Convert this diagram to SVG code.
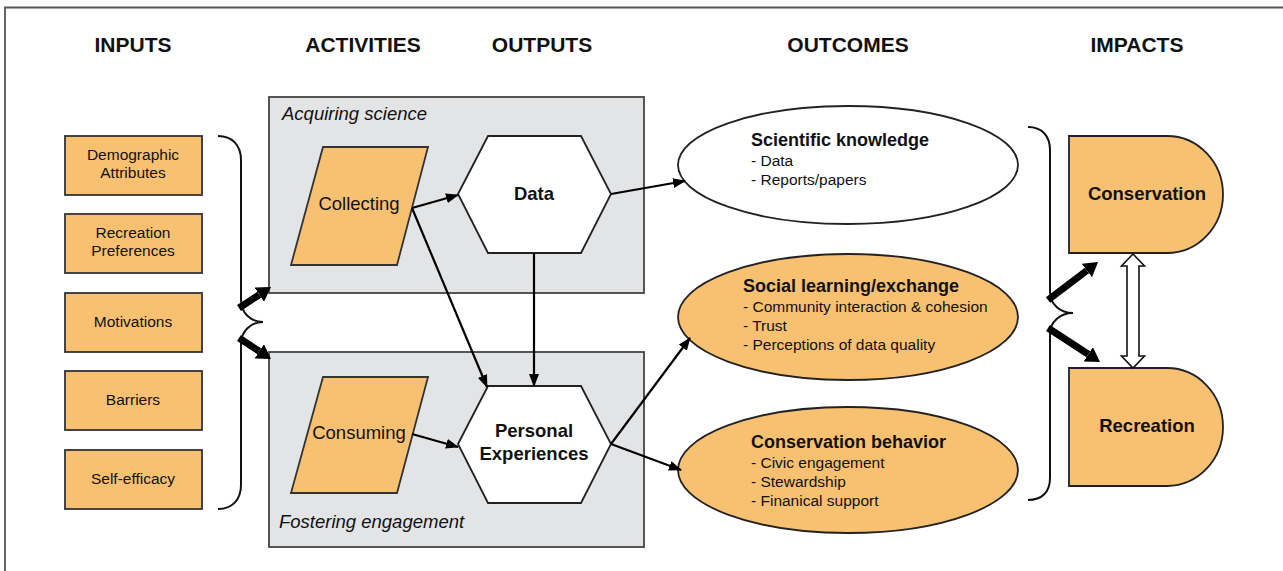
<svg xmlns="http://www.w3.org/2000/svg" width="1283" height="571" viewBox="0 0 1283 571">
  <style>
    text { font-family: "Liberation Sans", Arial, sans-serif; fill: #111; }
    .hdr { font-size: 21px; font-weight: bold; text-anchor: middle; }
    .inp { font-size: 15.5px; text-anchor: middle; }
    .act { font-size: 18.5px; text-anchor: middle; }
    .grp { font-size: 18.5px; font-style: italic; }
    .hex { font-size: 18.5px; font-weight: bold; text-anchor: middle; }
    .oth { font-size: 18px; font-weight: bold; }
    .oit { font-size: 15.5px; }
    .imp { font-size: 18.5px; font-weight: bold; text-anchor: middle; }
    .box { fill: #f8c172; stroke: #333; stroke-width: 1.8; }
    .panel { fill: #e3e4e6; stroke: #444; stroke-width: 1.8; }
    .white { fill: #fff; stroke: #222; stroke-width: 1.8; }
    .orange { fill: #f8c172; stroke: #222; stroke-width: 1.8; }
    .conn { stroke: #000; stroke-width: 2.2; fill: none; marker-end: url(#head); }
    .thick { stroke: #000; stroke-width: 7; fill: none; marker-end: url(#bighead); }
    .brace { stroke: #111; stroke-width: 2; fill: none; }
  </style>
  <defs>
    <marker id="head" viewBox="0 0 13 10" refX="12" refY="5" markerWidth="13" markerHeight="10" markerUnits="userSpaceOnUse" orient="auto">
      <path d="M0,0 L13,5 L0,10 z" fill="#000"/>
    </marker>
    <marker id="bighead" viewBox="0 -8.5 14 17" refX="0" refY="0" markerWidth="14" markerHeight="17" markerUnits="userSpaceOnUse" orient="auto">
      <path d="M0,-8.5 L14,0 L0,8.5 z" fill="#000"/>
    </marker>
  </defs>

  <rect width="1283" height="571" fill="#fff"/>
  <!-- frame -->
  <path d="M5,571 V7.5 H1283" fill="none" stroke="#555" stroke-width="1.8"/>

  <!-- column headings -->
  <g id="headings">
    <text class="hdr" x="133" y="52">INPUTS</text>
    <text class="hdr" x="363" y="52">ACTIVITIES</text>
    <text class="hdr" x="542" y="52">OUTPUTS</text>
    <text class="hdr" x="848" y="52">OUTCOMES</text>
    <text class="hdr" x="1137" y="52">IMPACTS</text>
  </g>

  <!-- inputs -->
  <g id="demographic">
    <rect class="box" x="65" y="136" width="137" height="59"/>
    <text class="inp" x="133" y="160">Demographic</text>
    <text class="inp" x="133" y="178">Attributes</text>
  </g>
  <g id="recreation-prefs">
    <rect class="box" x="65" y="214" width="137" height="59"/>
    <text class="inp" x="133" y="238">Recreation</text>
    <text class="inp" x="133" y="256">Preferences</text>
  </g>
  <g id="motivations">
    <rect class="box" x="65" y="293" width="137" height="59"/>
    <text class="inp" x="133" y="327">Motivations</text>
  </g>
  <g id="barriers">
    <rect class="box" x="65" y="371" width="137" height="59"/>
    <text class="inp" x="133" y="405">Barriers</text>
  </g>
  <g id="self-efficacy">
    <rect class="box" x="65" y="450" width="137" height="59"/>
    <text class="inp" x="133" y="484">Self-efficacy</text>
  </g>

  <!-- braces -->
  <g id="braces">
    <path class="brace" d="M218,136 C232,136 241,145 241,160 V300 C241,312 250,322 263,322 C250,322 241,332 241,344 V485 C241,500 232,509 218,509"/>
    <path class="brace" d="M1028,127 C1042,127 1050,136 1050,150 V292 C1050,304 1060,313 1073,313 C1060,313 1050,322 1050,334 V478 C1050,492 1042,500 1028,500"/>
  </g>

  <!-- activity panels -->
  <g id="acquiring-science">
    <rect class="panel" x="269" y="97" width="375" height="196"/>
    <text class="grp" x="282" y="120">Acquiring science</text>
  </g>
  <g id="fostering-engagement">
    <rect class="panel" x="269" y="352" width="375" height="195"/>
    <text class="grp" x="279" y="528">Fostering engagement</text>
  </g>

  <g id="collecting">
    <polygon class="box" points="323,147 428,147 397,265 291,265"/>
    <text class="act" x="359" y="210">Collecting</text>
  </g>
  <g id="consuming">
    <polygon class="box" points="323,377 428,377 397,493 291,493"/>
    <text class="act" x="359" y="439">Consuming</text>
  </g>

  <!-- outputs -->
  <g id="data">
    <polygon class="white" points="458,194 488,136 581,136 611,194 581,253 488,253"/>
    <text class="hex" x="534" y="200">Data</text>
  </g>
  <g id="personal-experiences">
    <polygon class="white" points="458,444 488,386 581,386 611,444 581,503 488,503"/>
    <text class="hex" x="534" y="437">Personal</text>
    <text class="hex" x="534" y="460">Experiences</text>
  </g>

  <!-- outcomes -->
  <g id="scientific-knowledge">
    <ellipse class="white" cx="848" cy="165" rx="170" ry="59"/>
    <text class="oth" x="751" y="146">Scientific knowledge</text>
    <text class="oit" x="751" y="166">- Data</text>
    <text class="oit" x="751" y="185">- Reports/papers</text>
  </g>
  <g id="social-learning">
    <ellipse class="orange" cx="848" cy="317" rx="170" ry="63"/>
    <text class="oth" x="743" y="292">Social learning/exchange</text>
    <text class="oit" x="743" y="312">- Community interaction &amp; cohesion</text>
    <text class="oit" x="743" y="331">- Trust</text>
    <text class="oit" x="743" y="350">- Perceptions of data quality</text>
  </g>
  <g id="conservation-behavior">
    <ellipse class="orange" cx="848" cy="470" rx="170" ry="63"/>
    <text class="oth" x="751" y="448">Conservation behavior</text>
    <text class="oit" x="751" y="468">- Civic engagement</text>
    <text class="oit" x="751" y="487">- Stewardship</text>
    <text class="oit" x="751" y="506">- Finanical support</text>
  </g>

  <!-- impacts -->
  <g id="conservation">
    <path class="orange" d="M1069,136 H1167 A56,58.5 0 0 1 1167,253 H1069 Z"/>
    <text class="imp" x="1147" y="200">Conservation</text>
  </g>
  <g id="recreation">
    <path class="orange" d="M1069,368 H1167 A56,59 0 0 1 1167,486 H1069 Z"/>
    <text class="imp" x="1147" y="432">Recreation</text>
  </g>

  <!-- connectors -->
  <g id="connectors">
    <line class="conn" x1="412" y1="208" x2="458" y2="195"/>
    <line class="conn" x1="412" y1="208" x2="487" y2="387"/>
    <line class="conn" x1="534" y1="253" x2="534" y2="386"/>
    <line class="conn" x1="611" y1="194" x2="685" y2="181"/>
    <line class="conn" x1="412" y1="434" x2="458" y2="447"/>
    <line class="conn" x1="611" y1="444" x2="690" y2="338"/>
    <line class="conn" x1="611" y1="444" x2="681" y2="470"/>

    <line class="thick" x1="239" y1="308" x2="259.3" y2="294.7"/>
    <line class="thick" x1="239" y1="338" x2="259.3" y2="351.3"/>
    <line class="thick" x1="1048" y1="300" x2="1086.9" y2="270.5"/>
    <line class="thick" x1="1048" y1="328" x2="1088.3" y2="354.3"/>

    <polygon points="1133,254 1144.5,266 1139,266 1139,356 1144.5,356 1133,368 1121.5,356 1127,356 1127,266 1121.5,266" fill="#fff" stroke="#111" stroke-width="1.6"/>
  </g>
</svg>
